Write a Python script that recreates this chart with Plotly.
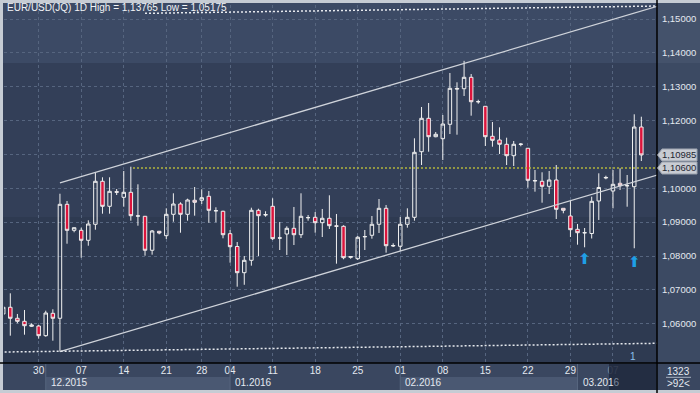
import plotly.graph_objects as go

# ---------------- data ----------------
dates = [
    "2015-11-24", "2015-11-25", "2015-11-26", "2015-11-27", "2015-11-29", "2015-11-30",
    "2015-12-01", "2015-12-02", "2015-12-03", "2015-12-04", "2015-12-06", "2015-12-07",
    "2015-12-08", "2015-12-09", "2015-12-10", "2015-12-11", "2015-12-13", "2015-12-14",
    "2015-12-15", "2015-12-16", "2015-12-17", "2015-12-18", "2015-12-20", "2015-12-21",
    "2015-12-22", "2015-12-23", "2015-12-24", "2015-12-27", "2015-12-28", "2015-12-29",
    "2015-12-30", "2015-12-31", "2016-01-04", "2016-01-05", "2016-01-06", "2016-01-07",
    "2016-01-08", "2016-01-10", "2016-01-11", "2016-01-12", "2016-01-13", "2016-01-14",
    "2016-01-15", "2016-01-17", "2016-01-18", "2016-01-19", "2016-01-20", "2016-01-21",
    "2016-01-22", "2016-01-24", "2016-01-25", "2016-01-26", "2016-01-27", "2016-01-28",
    "2016-01-29", "2016-01-31", "2016-02-01", "2016-02-02", "2016-02-03", "2016-02-04",
    "2016-02-05", "2016-02-07", "2016-02-08", "2016-02-09", "2016-02-10", "2016-02-11",
    "2016-02-12", "2016-02-14", "2016-02-15", "2016-02-16", "2016-02-17", "2016-02-18",
    "2016-02-19", "2016-02-21", "2016-02-22", "2016-02-23", "2016-02-24", "2016-02-25",
    "2016-02-26", "2016-02-28", "2016-02-29", "2016-03-01", "2016-03-02", "2016-03-03",
    "2016-03-04", "2016-03-06", "2016-03-07", "2016-03-08", "2016-03-09", "2016-03-10",
    "2016-03-11",
]
opens = [
    1.06287, 1.06485, 1.06160, 1.06071, 1.05923, 1.05932, 1.05646, 1.06307, 1.06160, 1.09527,
    1.08759, 1.08759, 1.08464, 1.08937, 1.10207, 1.09468, 1.09900, 1.09734, 1.09882, 1.09185,
    1.09173, 1.08169, 1.08730, 1.08600, 1.09232, 1.09536, 1.09232, 1.09646, 1.09646, 1.09764,
    1.09340, 1.09321, 1.08659, 1.08281, 1.07507, 1.07873, 1.09350, 1.09225, 1.09468, 1.08535,
    1.08650, 1.08818, 1.08629, 1.09130, 1.09143, 1.08984, 1.09114, 1.08890, 1.08877, 1.07960,
    1.07920, 1.08565, 1.08612, 1.08937, 1.09409, 1.08295, 1.08287, 1.08937, 1.09143, 1.11081,
    1.12068, 1.11524, 1.11465, 1.11891, 1.12950, 1.12942, 1.13279, 1.12555, 1.12422, 1.11536,
    1.11427, 1.11300, 1.10963, 1.11295, 1.11182, 1.10230, 1.10207, 1.10059, 1.10245, 1.09409,
    1.09182, 1.08789, 1.08690, 1.08665, 1.09625, 1.10305, 1.09920, 1.10148, 1.10080, 1.10047,
    1.11811,
]
highs = [
    1.06612, 1.06898, 1.06287, 1.06405, 1.06012, 1.05962, 1.06384, 1.06426, 1.09840, 1.09625,
    1.08836, 1.08836, 1.09055, 1.10461, 1.10325, 1.10325, 1.09979, 1.10511, 1.10638, 1.10118,
    1.09180, 1.08768, 1.08740, 1.09409, 1.09852, 1.09586, 1.09693, 1.10038, 1.09970, 1.09920,
    1.09439, 1.09338, 1.08768, 1.08414, 1.08000, 1.09427, 1.09397, 1.09321, 1.09705, 1.09005,
    1.08877, 1.09448, 1.09852, 1.09211, 1.09300, 1.09389, 1.09793, 1.09241, 1.08907, 1.08000,
    1.08591, 1.08768, 1.09182, 1.09684, 1.09507, 1.08375, 1.09152, 1.09409, 1.11477, 1.12402,
    1.12520, 1.11663, 1.12165, 1.13406, 1.13131, 1.13765, 1.13376, 1.12617, 1.12422, 1.11958,
    1.11802, 1.11495, 1.11397, 1.11338, 1.11182, 1.10541, 1.10473, 1.10511, 1.10688, 1.09409,
    1.09634, 1.08945, 1.08827, 1.09752, 1.10443, 1.10372, 1.10541, 1.10591, 1.10393, 1.12186,
    1.12115,
]
lows = [
    1.06169, 1.05646, 1.06012, 1.05675, 1.05903, 1.05557, 1.05616, 1.05498, 1.05175, 1.08363,
    1.08700, 1.07950, 1.08304, 1.08777, 1.09250, 1.09250, 1.09802, 1.09456, 1.09043, 1.08895,
    1.08009, 1.08039, 1.08641, 1.08502, 1.09013, 1.08688, 1.09043, 1.09191, 1.09536, 1.08984,
    1.08996, 1.08523, 1.07802, 1.07093, 1.07150, 1.07714, 1.08000, 1.09161, 1.08473, 1.08177,
    1.08030, 1.08325, 1.08532, 1.09043, 1.08688, 1.08561, 1.08798, 1.07773, 1.07903, 1.07920,
    1.07882, 1.08177, 1.08511, 1.08680, 1.08098, 1.08266, 1.08148, 1.08836, 1.09043, 1.10688,
    1.11081, 1.11507, 1.10836, 1.11604, 1.11583, 1.12727, 1.12145, 1.12499, 1.11250, 1.11229,
    1.11013, 1.10688, 1.10659, 1.11241, 1.10018, 1.09900, 1.09575, 1.09832, 1.09093, 1.09261,
    1.08561, 1.08334, 1.08257, 1.08517, 1.09064, 1.10266, 1.09409, 1.09950, 1.09456, 1.08228,
    1.10806,
]
closes = [
    1.06485, 1.06160, 1.06071, 1.05941, 1.05962, 1.05646, 1.06316, 1.06160, 1.09527, 1.08759,
    1.08836, 1.08464, 1.08945, 1.10207, 1.09468, 1.09911, 1.09885, 1.09882, 1.09191, 1.09180,
    1.08169, 1.08739, 1.08680, 1.09232, 1.09536, 1.09232, 1.09654, 1.09586, 1.09722, 1.09350,
    1.09335, 1.08629, 1.08275, 1.07507, 1.07873, 1.09350, 1.09191, 1.09215, 1.08511, 1.08530,
    1.08818, 1.08629, 1.09173, 1.09135, 1.08984, 1.09114, 1.08895, 1.08880, 1.07950, 1.07985,
    1.08553, 1.08575, 1.08937, 1.09409, 1.08304, 1.08310, 1.08937, 1.09143, 1.11063, 1.12068,
    1.11524, 1.11595, 1.11899, 1.12954, 1.12935, 1.13279, 1.12558, 1.12560, 1.11524, 1.11418,
    1.11300, 1.10963, 1.11300, 1.11305, 1.10236, 1.10220, 1.10059, 1.10245, 1.09380, 1.09350,
    1.08777, 1.08688, 1.08685, 1.09616, 1.10024, 1.10320, 1.10118, 1.10077, 1.10075, 1.11811,
    1.10985,
]

signal_dates = ["2016-03-02", "2016-03-10"]
signal_prices = [1.07882, 1.07779]

y_ticks = [1.06, 1.07, 1.08, 1.09, 1.10, 1.11, 1.12, 1.13, 1.14, 1.15]
y_tick_text = ["1,06000", "1,07000", "1,08000", "1,09000", "1,10000",
               "1,11000", "1,12000", "1,13000", "1,14000", "1,15000"]
x_tick_dates = ["2015-11-30", "2015-12-07", "2015-12-14", "2015-12-21", "2015-12-28",
                "2016-01-04", "2016-01-11", "2016-01-18", "2016-01-25", "2016-02-01",
                "2016-02-08", "2016-02-15", "2016-02-22", "2016-02-29", "2016-03-07"]
x_tick_text = ["30", "07", "14", "21", "28", "04", "11", "18", "25", "01",
               "08", "15", "22", "29", "<span style='color:#7d899d'>07</span>"]
month_starts = ["2015-12-01", "2016-01-04", "2016-02-01", "2016-03-01"]
month_labels = ["12.2015", "01.2016", "02.2016", "03.201<span style='color:#7d899d'>6</span>"]

# channel / level lines: (bar position, price)
channel_upper = [(8, 1.10160), (92.3, 1.15380)]
channel_lower = [(8, 1.05175), (92.3, 1.10395)]
range_top = [(20.0, 1.15169), (92.3, 1.15385)]
range_bottom = [(0.2, 1.05164), (92.3, 1.05421)]
level_line = [(18.3, 1.10600), (92.3, 1.10600)]

title_text = "EUR/USD(JQ) 1D High = 1,13765 Low = 1,05175"
bid_price = 1.10985
bid_label = "1,10985"
level_label = "1,10600"

# ---------------- layout geometry ----------------
W, H = 700, 393
ML, MR, MT, MB = 4, 43, 5, 30
PW = W - ML - MR
PH = H - MT - MB
PB = H - MB  # pixel y of plot bottom
Y_RANGE = [1.04839, 1.15415]
X_RANGE = [0.11, 92.21]


def px(x):
    return (x - ML) / PW


def py(y):
    return (PB - y) / PH


def price_to_paper(p):
    return (p - Y_RANGE[0]) / (Y_RANGE[1] - Y_RANGE[0])


FONT = "Liberation Sans"
TXT = "#e4e9f0"

fig = go.Figure()

fig.add_trace(go.Candlestick(
    x=dates, open=opens, high=highs, low=lows, close=closes,
    increasing=dict(line=dict(color="#f0f0f0", width=1), fillcolor="rgba(0,0,0,0)"),
    decreasing=dict(line=dict(color="#f0f0f0", width=1), fillcolor="#dc143c"),
    whiskerwidth=0, showlegend=False, hoverinfo="skip",
))

fig.add_trace(go.Scatter(
    x=signal_dates, y=signal_prices, mode="text", text=["⬆", "⬆"],
    textfont=dict(color="#1e9fe6", size=15, family="DejaVu Sans"),
    showlegend=False, hoverinfo="skip",
))

shapes = []


def rect_px(x0, y0, x1, y1, color, layer="below"):
    shapes.append(dict(type="rect", xref="paper", yref="paper",
                       x0=px(x0), x1=px(x1), y0=py(y1), y1=py(y0),
                       fillcolor=color, line=dict(width=0), layer=layer))


def line_px(x0, y0, x1, y1, color, width=1, layer="above"):
    shapes.append(dict(type="line", xref="paper", yref="paper",
                       x0=px(x0), x1=px(x1), y0=py(y0), y1=py(y1),
                       line=dict(color=color, width=width), layer=layer))


def label(text, x, y, size=10, color=TXT, xanchor="center"):
    return dict(text=text, x=x, y=y, xref="paper", yref="paper",
                xanchor=xanchor, yanchor="middle", showarrow=False,
                font=dict(family=FONT, size=size, color=color))


# backgrounds
rect_px(3, 3, 700, 390, "#3a4760")
rect_px(657, 3, 700, 63, "#44526b")
rect_px(657, 63, 700, 363, "#3c4a63")
rect_px(3, 3, 657, 63, "#3c4a65")
rect_px(3, 63, 657, 217, "#333f58")
rect_px(3, 217, 657, 363, "#2e3a51")

# month boxes in the time scale
for i, (m0, m1) in enumerate(zip(month_starts, month_starts[1:] + [None])):
    i0 = dates.index(m0)
    x0 = 10.3 + 7.09 * (i0 - 1)
    x1 = 10.3 + 7.09 * (dates.index(m1) - 1) if m1 else 657
    if i % 2 == 0 and m1:
        rect_px(x0, 377, x1, 390, "#4a5872")
    line_px(x0, 364, x0, 390, "#56657e", 1)
rect_px(609, 364, 656, 390, "rgba(28,36,56,0.75)", layer="above")

# data lines
for pts, color, dash, width in [
    (channel_upper, "#cfd3da", None, 1.3),
    (channel_lower, "#cfd3da", None, 1.3),
    (range_top, "#e6e9ee", "2px,2px", 1.5),
    (range_bottom, "#e6e9ee", "2px,2px", 1.5),
    (level_line, "#b4b63c", "2px,2px", 1.5),
]:
    (xa, ya), (xb, yb) = pts
    ln = dict(color=color, width=width)
    if dash:
        ln["dash"] = dash
    shapes.append(dict(type="line", xref="x", yref="y", x0=xa, y0=ya, x1=xb, y1=yb,
                       line=ln, layer="above"))

# frame lines
line_px(657, 0, 657, 393, "#000000", 1.5)
line_px(0, 363, 700, 363, "#000000", 1.5)
line_px(666, 377.3, 691, 377.3, "#a9b3c2", 1)

# price tags
for price in [bid_price, level_line[0][1]]:
    yc = price_to_paper(price)
    h = 6 / PH
    path = (f"M {px(657.5)},{yc} L {px(662)},{yc + h} L {px(697)},{yc + h} "
            f"L {px(697)},{yc - h} L {px(662)},{yc - h} Z")
    shapes.append(dict(type="path", xref="paper", yref="paper", path=path,
                       fillcolor="#c8ccd3", line=dict(color="#9aa1ad", width=1), layer="above"))

annotations = [
    label(title_text, px(5), py(7.5), size=10, color="#f2f4f7", xanchor="left"),
    label("1", px(632.5), py(356), color="#8cc0ec"),
    label("1323", px(678.5), py(371)),
    label("&gt;92&lt;", px(678.5), py(383)),
]
for price, lab in [(bid_price, bid_label), (level_line[0][1], level_label)]:
    annotations.append(label(lab, px(679.5), price_to_paper(price), size=9.5, color="#1f2631"))
for m, lab in zip(month_starts, month_labels):
    i0 = dates.index(m)
    annotations.append(label(lab, px(10.3 + 7.09 * (i0 - 1) + 3), py(382.5), xanchor="left"))

fig.update_layout(
    width=W, height=H,
    margin=dict(l=ML, r=MR, t=MT, b=MB, pad=0),
    paper_bgcolor="#c6ccd4",
    plot_bgcolor="#2e3a51",
    showlegend=False,
    shapes=shapes,
    annotations=annotations,
    xaxis=dict(
        type="category", range=X_RANGE, rangeslider=dict(visible=False),
        tickvals=x_tick_dates, ticktext=x_tick_text, tickangle=0,
        showgrid=True, gridcolor="#56657f", griddash="3px,3px", gridwidth=1,
        ticks="", showline=False, zeroline=False,
        tickfont=dict(family=FONT, size=10, color=TXT),
    ),
    yaxis=dict(
        side="right", range=Y_RANGE, tickvals=y_ticks, ticktext=y_tick_text,
        showgrid=True, gridcolor="#56657f", griddash="3px,3px", gridwidth=1,
        ticks="outside", ticklen=2, tickcolor="rgba(0,0,0,0)",
        showline=False, zeroline=False,
        tickfont=dict(family=FONT, size=9.5, color=TXT),
    ),
)

fig.write_html(
    "out.html",
    config={"displayModeBar": False},
    post_script="document.body.style.margin='0px';document.body.style.overflow='hidden';",
)
